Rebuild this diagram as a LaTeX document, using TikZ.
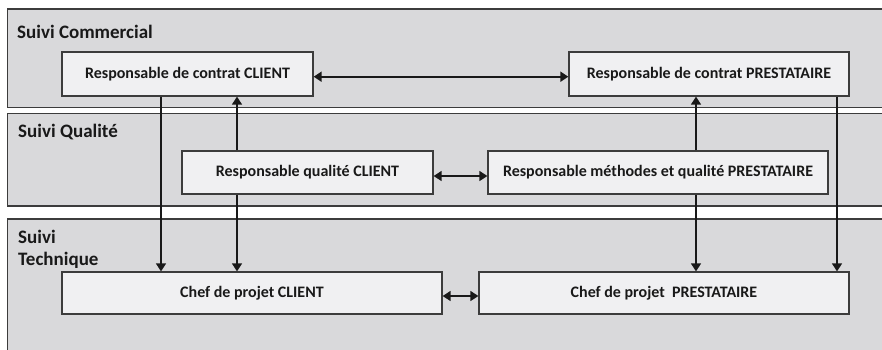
\documentclass[tikz,border=0pt]{standalone}
\usepackage{fontspec}
\setmainfont{Carlito}
\usetikzlibrary{arrows.meta}
\definecolor{bandfill}{RGB}{217,217,219}
\definecolor{boxfill}{RGB}{240,240,242}
\definecolor{edge}{RGB}{60,60,60}
\tikzset{
  band/.style={draw=edge, line width=1.5bp, fill=bandfill},
  bandlabel/.style={anchor=base west, inner sep=0, font=\fontsize{19bp}{22bp}\selectfont\bfseries, text=black!90, align=left},
  rbox/.style={draw=edge, line width=1.3bp, fill=boxfill, inner sep=0, font=\fontsize{16bp}{19bp}\selectfont\bfseries, text=black!90},
  arr/.style={draw=black!90, line width=1.7bp, -{Triangle[width=10bp,length=8bp]}},
  darr/.style={draw=black!90, line width=1.7bp, {Triangle[width=10bp,length=8bp]}-{Triangle[width=10bp,length=8bp]}}
}
\begin{document}
\begin{tikzpicture}[x=1bp,y=-1bp]
\useasboundingbox (0,0) rectangle (882,349);
\clip (0,0) rectangle (882,349);
\fill[white] (0,0) rectangle (882,349);
% bands
\draw[band] (7.5,9) rectangle (895,107.5);
\draw[band] (7.5,113.5) rectangle (895,206);
\draw[band] (7.5,219) rectangle (895,370);
\node[bandlabel] (lc) at (17,38) {Suivi Commercial};
\node[bandlabel] (lq) at (18,137) {Suivi Qualité};
\node[bandlabel] (lt1) at (18,243) {Suivi};
\node[bandlabel] (lt2) at (18,265) {Technique};
% boxes
\node[rbox, minimum width=251bp, minimum height=44bp] (RCC) at (187.5,74) {Responsable de contrat CLIENT};
\node[rbox, minimum width=280bp, minimum height=44bp] (RCP) at (709,74) {Responsable de contrat PRESTATAIRE};
\node[rbox, minimum width=251bp, minimum height=43bp] (RQC) at (307.5,172.5) {Responsable qualité CLIENT};
\node[rbox, minimum width=340bp, minimum height=43bp] (RMQP) at (658,172.5) {Responsable méthodes et qualité PRESTATAIRE};
\node[rbox, minimum width=380bp, minimum height=42bp] (CPC) at (252,293) {Chef de projet CLIENT};
\node[rbox, minimum width=370bp, minimum height=42bp] (CPP) at (664,293) {Chef de projet\ \ PRESTATAIRE};
% horizontal links
\draw[darr] ([yshift=-2.7bp]RCC.east) -- ([yshift=-2.7bp]RCP.west);
\draw[darr] ([yshift=-3.5bp]RQC.east) -- ([yshift=-3.5bp]RMQP.west);
\draw[darr] ([yshift=-3bp]CPC.east) -- ([yshift=-3bp]CPP.west);
% vertical links
\draw[arr] (RCC.south -| 161,0) -- (CPC.north -| 161,0);
\draw[arr] (RQC.north -| 237,0) -- (RCC.south -| 237,0);
\draw[arr] (RQC.south -| 237,0) -- (CPC.north -| 237,0);
\draw[arr] (RMQP.north -| 696,0) -- (RCP.south -| 696,0);
\draw[arr] (RMQP.south -| 696,0) -- (CPP.north -| 696,0);
\draw[arr] (RCP.south -| 837,0) -- (CPP.north -| 837,0);
\end{tikzpicture}
\end{document}
